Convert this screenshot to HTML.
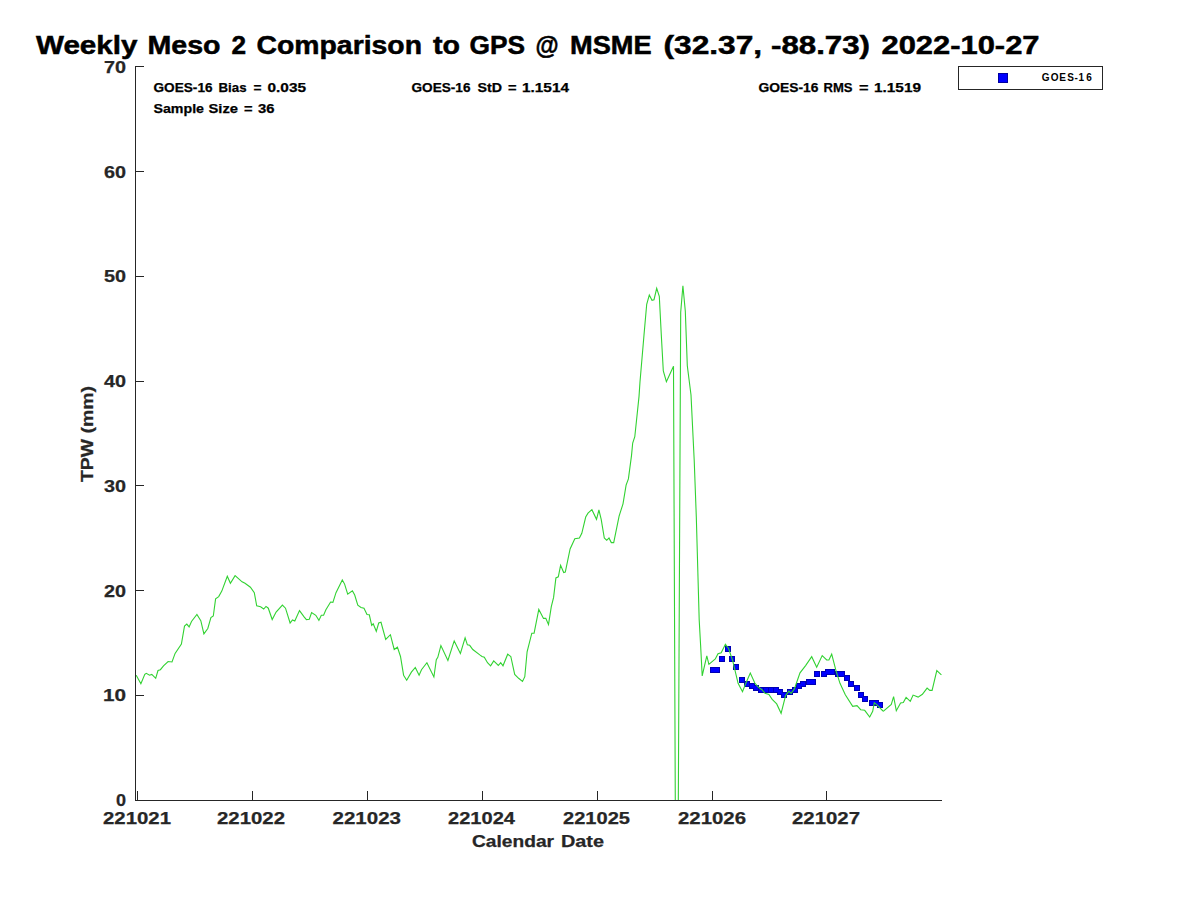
<!DOCTYPE html>
<html><head><meta charset="utf-8"><style>
html,body{margin:0;padding:0;background:#fff;width:1200px;height:900px;overflow:hidden}
svg{display:block}
text{font-family:"Liberation Sans",sans-serif;font-weight:bold}
</style></head><body>
<svg width="1200" height="900" viewBox="0 0 1200 900">
<rect width="1200" height="900" fill="#fff"/>
<defs><clipPath id="cp"><rect x="136" y="0" width="806" height="800"/></clipPath></defs>
<text x="36.0" y="53.6" font-size="25" fill="#000" stroke="#000" stroke-width="0.5" textLength="101.5" lengthAdjust="spacingAndGlyphs">Weekly</text>
<text x="147.5" y="53.6" font-size="25" fill="#000" stroke="#000" stroke-width="0.5" textLength="73.07" lengthAdjust="spacingAndGlyphs">Meso</text>
<text x="231.5" y="53.6" font-size="25" fill="#000" stroke="#000" stroke-width="0.5" textLength="14.57" lengthAdjust="spacingAndGlyphs">2</text>
<text x="256.5" y="53.6" font-size="25" fill="#000" stroke="#000" stroke-width="0.5" textLength="165.52" lengthAdjust="spacingAndGlyphs">Comparison</text>
<text x="433.0" y="53.6" font-size="25" fill="#000" stroke="#000" stroke-width="0.5" textLength="27.01" lengthAdjust="spacingAndGlyphs">to</text>
<text x="469.5" y="53.6" font-size="25" fill="#000" stroke="#000" stroke-width="0.5" textLength="55.55" lengthAdjust="spacingAndGlyphs">GPS</text>
<text x="535.5" y="53.6" font-size="25" fill="#000" stroke="#000" stroke-width="0.5" textLength="23.13" lengthAdjust="spacingAndGlyphs">@</text>
<text x="570.0" y="53.6" font-size="25" fill="#000" stroke="#000" stroke-width="0.5" textLength="81.52" lengthAdjust="spacingAndGlyphs">MSME</text>
<text x="663.5" y="53.6" font-size="25" fill="#000" stroke="#000" stroke-width="0.5" textLength="98.56" lengthAdjust="spacingAndGlyphs">(32.37,</text>
<text x="771.0" y="53.6" font-size="25" fill="#000" stroke="#000" stroke-width="0.5" textLength="99.02" lengthAdjust="spacingAndGlyphs">-88.73)</text>
<text x="881.5" y="53.6" font-size="25" fill="#000" stroke="#000" stroke-width="0.5" textLength="158.01" lengthAdjust="spacingAndGlyphs">2022-10-27</text>
<text x="153.5" y="92" font-size="13" fill="#000" stroke="#000" stroke-width="0.25" textLength="59.03" lengthAdjust="spacingAndGlyphs">GOES-16</text>
<text x="218.5" y="92" font-size="13" fill="#000" stroke="#000" stroke-width="0.25" textLength="28.04" lengthAdjust="spacingAndGlyphs">Bias</text>
<text x="253.5" y="92" font-size="13" fill="#000" stroke="#000" stroke-width="0.25" textLength="8.0" lengthAdjust="spacingAndGlyphs">=</text>
<text x="267.5" y="92" font-size="13" fill="#000" stroke="#000" stroke-width="0.25" textLength="38.5" lengthAdjust="spacingAndGlyphs">0.035</text>
<text x="153.5" y="113" font-size="13" fill="#000" stroke="#000" stroke-width="0.25" textLength="50.51" lengthAdjust="spacingAndGlyphs">Sample</text>
<text x="208.5" y="113" font-size="13" fill="#000" stroke="#000" stroke-width="0.25" textLength="29.51" lengthAdjust="spacingAndGlyphs">Size</text>
<text x="244.0" y="113" font-size="13" fill="#000" stroke="#000" stroke-width="0.25" textLength="8.55" lengthAdjust="spacingAndGlyphs">=</text>
<text x="258.0" y="113" font-size="13" fill="#000" stroke="#000" stroke-width="0.25" textLength="16.52" lengthAdjust="spacingAndGlyphs">36</text>
<text x="411.5" y="92" font-size="13" fill="#000" stroke="#000" stroke-width="0.25" textLength="59.01" lengthAdjust="spacingAndGlyphs">GOES-16</text>
<text x="477.5" y="92" font-size="13" fill="#000" stroke="#000" stroke-width="0.25" textLength="24.52" lengthAdjust="spacingAndGlyphs">StD</text>
<text x="508.0" y="92" font-size="13" fill="#000" stroke="#000" stroke-width="0.25" textLength="8.55" lengthAdjust="spacingAndGlyphs">=</text>
<text x="522.0" y="92" font-size="13" fill="#000" stroke="#000" stroke-width="0.25" textLength="47.01" lengthAdjust="spacingAndGlyphs">1.1514</text>
<text x="758.5" y="92" font-size="13" fill="#000" stroke="#000" stroke-width="0.25" textLength="60.01" lengthAdjust="spacingAndGlyphs">GOES-16</text>
<text x="823.5" y="92" font-size="13" fill="#000" stroke="#000" stroke-width="0.25" textLength="29.03" lengthAdjust="spacingAndGlyphs">RMS</text>
<text x="859.0" y="92" font-size="13" fill="#000" stroke="#000" stroke-width="0.25" textLength="9.54" lengthAdjust="spacingAndGlyphs">=</text>
<text x="874.0" y="92" font-size="13" fill="#000" stroke="#000" stroke-width="0.25" textLength="47.0" lengthAdjust="spacingAndGlyphs">1.1519</text>
<text x="472.0" y="846.8" font-size="16" fill="#262626" stroke="#262626" stroke-width="0.25" textLength="82.0" lengthAdjust="spacingAndGlyphs">Calendar</text>
<text x="561.0" y="846.8" font-size="16" fill="#262626" stroke="#262626" stroke-width="0.25" textLength="43.02" lengthAdjust="spacingAndGlyphs">Date</text>

<g stroke="#262626" stroke-width="1" fill="none" shape-rendering="crispEdges">
<line x1="135.5" y1="66" x2="135.5" y2="801"/>
<line x1="135" y1="800.5" x2="942" y2="800.5"/>
<line x1="137.5" y1="791" x2="137.5" y2="800"/><line x1="252.4" y1="791" x2="252.4" y2="800"/><line x1="367.3" y1="791" x2="367.3" y2="800"/><line x1="482.2" y1="791" x2="482.2" y2="800"/><line x1="597.1" y1="791" x2="597.1" y2="800"/><line x1="712.0" y1="791" x2="712.0" y2="800"/><line x1="826.9" y1="791" x2="826.9" y2="800"/><line x1="135" y1="800.5" x2="144" y2="800.5"/><line x1="135" y1="695.6" x2="144" y2="695.6"/><line x1="135" y1="590.8" x2="144" y2="590.8"/><line x1="135" y1="485.9" x2="144" y2="485.9"/><line x1="135" y1="381.1" x2="144" y2="381.1"/><line x1="135" y1="276.2" x2="144" y2="276.2"/><line x1="135" y1="171.4" x2="144" y2="171.4"/><line x1="135" y1="66.5" x2="144" y2="66.5"/>
</g>
<g fill="#262626" stroke="#262626" stroke-width="0.25" font-size="16">
<text x="116.0" y="805.65" font-size="17.2" textLength="10.04" lengthAdjust="spacingAndGlyphs">0</text>
<text x="103.0" y="700.65" font-size="17.2" textLength="23.07" lengthAdjust="spacingAndGlyphs">10</text>
<text x="104.0" y="596.55" font-size="17.2" textLength="22.02" lengthAdjust="spacingAndGlyphs">20</text>
<text x="104.0" y="491.55" font-size="17.2" textLength="22.02" lengthAdjust="spacingAndGlyphs">30</text>
<text x="104.0" y="386.55" font-size="17.2" textLength="22.02" lengthAdjust="spacingAndGlyphs">40</text>
<text x="104.0" y="281.65" font-size="17.2" textLength="22.02" lengthAdjust="spacingAndGlyphs">50</text>
<text x="104.0" y="177.65" font-size="17.2" textLength="22.02" lengthAdjust="spacingAndGlyphs">60</text>
<text x="104.0" y="72.65" font-size="17.2" textLength="22.02" lengthAdjust="spacingAndGlyphs">70</text>

<text x="103.0" y="823.5" font-size="17.2" textLength="68.01" lengthAdjust="spacingAndGlyphs">221021</text>
<text x="217.0" y="823.5" font-size="17.2" textLength="68.01" lengthAdjust="spacingAndGlyphs">221022</text>
<text x="332.5" y="823.5" font-size="17.2" textLength="68.51" lengthAdjust="spacingAndGlyphs">221023</text>
<text x="448.0" y="823.5" font-size="17.2" textLength="67.01" lengthAdjust="spacingAndGlyphs">221024</text>
<text x="563.0" y="823.5" font-size="17.2" textLength="67.01" lengthAdjust="spacingAndGlyphs">221025</text>
<text x="678.0" y="823.5" font-size="17.2" textLength="68.0" lengthAdjust="spacingAndGlyphs">221026</text>
<text x="792.0" y="823.5" font-size="17.2" textLength="68.01" lengthAdjust="spacingAndGlyphs">221027</text>

<text transform="translate(92.5,482) rotate(-90)" x="0" y="0" textLength="96" lengthAdjust="spacingAndGlyphs">TPW (mm)</text>
</g>
<g clip-path="url(#cp)">
<g shape-rendering="crispEdges"><g fill="#0000b4"><rect x="710" y="667" width="6" height="6"/><rect x="714" y="667" width="6" height="6"/><rect x="719" y="656" width="6" height="6"/><rect x="725" y="646" width="6" height="6"/><rect x="729" y="656" width="6" height="6"/><rect x="733" y="664" width="6" height="6"/><rect x="739" y="677" width="6" height="6"/><rect x="744" y="681" width="6" height="6"/><rect x="749" y="683" width="6" height="6"/><rect x="753" y="685" width="6" height="6"/><rect x="758" y="687" width="6" height="6"/><rect x="763" y="687" width="6" height="6"/><rect x="768" y="687" width="6" height="6"/><rect x="773" y="687" width="6" height="6"/><rect x="777" y="689" width="6" height="6"/><rect x="781" y="692" width="6" height="6"/><rect x="787" y="689" width="6" height="6"/><rect x="792" y="687" width="6" height="6"/><rect x="796" y="683" width="6" height="6"/><rect x="800" y="681" width="6" height="6"/><rect x="806" y="679" width="6" height="6"/><rect x="810" y="679" width="6" height="6"/><rect x="814" y="671" width="6" height="6"/><rect x="821" y="671" width="6" height="6"/><rect x="825" y="669" width="6" height="6"/><rect x="829" y="669" width="6" height="6"/><rect x="835" y="671" width="6" height="6"/><rect x="839" y="671" width="6" height="6"/><rect x="844" y="675" width="6" height="6"/><rect x="848" y="681" width="6" height="6"/><rect x="854" y="685" width="6" height="6"/><rect x="858" y="692" width="6" height="6"/><rect x="862" y="696" width="6" height="6"/><rect x="869" y="700" width="6" height="6"/><rect x="873" y="700" width="6" height="6"/><rect x="877" y="702" width="6" height="6"/></g><g fill="#0000ff"><rect x="711" y="668" width="4" height="4"/><rect x="715" y="668" width="4" height="4"/><rect x="720" y="657" width="4" height="4"/><rect x="726" y="647" width="4" height="4"/><rect x="730" y="657" width="4" height="4"/><rect x="734" y="665" width="4" height="4"/><rect x="740" y="678" width="4" height="4"/><rect x="745" y="682" width="4" height="4"/><rect x="750" y="684" width="4" height="4"/><rect x="754" y="686" width="4" height="4"/><rect x="759" y="688" width="4" height="4"/><rect x="764" y="688" width="4" height="4"/><rect x="769" y="688" width="4" height="4"/><rect x="774" y="688" width="4" height="4"/><rect x="778" y="690" width="4" height="4"/><rect x="782" y="693" width="4" height="4"/><rect x="788" y="690" width="4" height="4"/><rect x="793" y="688" width="4" height="4"/><rect x="797" y="684" width="4" height="4"/><rect x="801" y="682" width="4" height="4"/><rect x="807" y="680" width="4" height="4"/><rect x="811" y="680" width="4" height="4"/><rect x="815" y="672" width="4" height="4"/><rect x="822" y="672" width="4" height="4"/><rect x="826" y="670" width="4" height="4"/><rect x="830" y="670" width="4" height="4"/><rect x="836" y="672" width="4" height="4"/><rect x="840" y="672" width="4" height="4"/><rect x="845" y="676" width="4" height="4"/><rect x="849" y="682" width="4" height="4"/><rect x="855" y="686" width="4" height="4"/><rect x="859" y="693" width="4" height="4"/><rect x="863" y="697" width="4" height="4"/><rect x="870" y="701" width="4" height="4"/><rect x="874" y="701" width="4" height="4"/><rect x="878" y="703" width="4" height="4"/></g></g>
<polyline points="136.2,675.2 140.9,683.7 144.8,674.4 146.3,673.3 149.5,675.2 151.8,674.4 155.7,678.3 158.0,670.5 160.4,669.7 163.5,665.8 168.1,661.5 172.0,662 175.1,653.4 181.4,644 184.5,626.1 186.8,624.1 189.1,626.9 191.5,621.5 196.9,614.5 200.8,620.7 203.9,633.9 207.8,628.5 210.9,617.6 213.3,616 215.6,598.9 218.7,596.6 221.8,591.1 227.3,576.3 230.4,583.3 235.1,575.6 242.1,581.8 245,583.3 250.4,587.2 254.3,592.7 256.7,605.9 260.6,606.7 263.7,609 266,606.4 268.3,608.2 272.2,619.5 276.1,612.1 282.4,605.1 285.5,608.2 290.1,623 292.5,619.9 294.8,621 299.5,610.6 304.1,616.8 306.4,619.6 309.3,619.3 311.6,612.5 315.8,615.3 318.9,620.4 321.3,615.3 323.6,615.3 325.9,609.8 330.6,602 332.9,602.3 336,592.7 342.3,579.9 344.6,584.1 347.7,594.2 352.4,590.8 354.7,595 357.8,605.1 361,607.5 364,608.2 367,614.5 369.3,614.8 371.7,625.4 373.2,623.8 376.3,631.3 378.7,623 381,622.3 385.7,639.4 390.4,634.7 394.2,649.5 397.4,647.2 400.5,656.5 403.6,675.2 406.7,680.2 411.4,672.1 415.3,667.4 419.1,675.2 421.5,669.7 426.9,662.7 433.9,677 436.3,659.6 437.8,657.3 440.9,645.6 447.9,660.4 454.2,640.9 460.4,653.4 465.1,637.8 467.4,644.8 469.7,645.3 472.8,649.5 479.8,654.9 482,656.5 484.3,657.3 487.5,662.7 490.6,665.8 493.7,660.9 498.3,665.5 500.7,662.7 503,665.8 507.7,654.2 510.8,656.5 514.7,674.4 518.6,678.3 522.5,681.4 524.8,676.7 527.1,651.8 531.8,633.2 534.1,633.2 538.8,609.5 543.5,618.4 545.8,618.4 548.5,624.6 551.3,606.7 553.6,597.4 555.9,577.9 558.3,576.8 560.6,565.4 563.7,572.5 565.3,572.1 570.1,548.9 574.8,538.8 579.4,538 581.8,533.3 585.7,517 588,513.1 591.9,509.7 596.5,519.3 598.9,510 601.2,519.3 604.3,538 606.7,540.3 609,538 611.3,542.6 613.7,542.6 619.1,516.2 623,503.8 626.1,485.1 628.4,478.9 631.5,455.6 632.7,443 634.8,436.7 639,396.6 640,381.7 644,335 646.7,304.3 649.3,295 652,300.3 654,299.7 656.7,288.3 659.3,296.3 661.3,335 663.3,371 666.4,381.7 673.5,366.3 675.3,805 678.3,805 680.7,312.3 682.9,285.7 685.3,311 687.3,365.7 691.0,395 694.2,460 696.3,516.7 699.2,620 700.6,645 702.2,675.9 706.8,655.9 708.9,664.3 715.3,659 718,653.8 721.2,652.7 725.4,644.3 728.6,648.5 732.8,661.1 738.1,683.3 742.5,691.7 745.5,684 750.3,673 754.8,683 757.8,686.7 762.2,690 765,693.3 768.9,694.4 772.2,699.4 776.7,703.9 781.1,713.3 785.6,695.6 788.9,691.1 791.1,693.3 794.4,688.9 800,672.8 805.6,665.6 811.7,656.7 816.7,667.2 822.2,655.6 826.7,660 828.9,660 831.7,654.2 836.1,671.1 840,683.3 845.3,694.7 852.7,706.3 857,705.7 860.7,709.7 864.7,710.3 869.7,717 872.7,711.3 874.3,702.7 876.7,704.7 882.7,710.7 883.5,711.1 891.3,704.4 893.6,696.7 896.3,710.7 900.6,702.9 903.3,702.5 906.1,697.4 910.3,701.3 913.1,695.1 918.1,697.1 922.4,694.3 927.1,688.1 929.8,690.4 932.1,690.4 936.8,670.6 941.4,674.9" fill="none" stroke="#32d232" stroke-width="1.1" stroke-linejoin="miter"/>
</g>
<rect x="958.5" y="66.5" width="144" height="23" fill="#fff" stroke="#262626" stroke-width="1"/>
<g shape-rendering="crispEdges"><rect x="998" y="73" width="10" height="10" fill="#0000a0"/><rect x="999" y="74" width="8" height="8" fill="#0000ff"/></g>
<text x="1041.7 1050.8 1059.3 1067.3 1074.5 1078.5 1086.2" y="81.2" font-size="10.0" fill="#000">GOES-16</text>
</svg>
</body></html>
